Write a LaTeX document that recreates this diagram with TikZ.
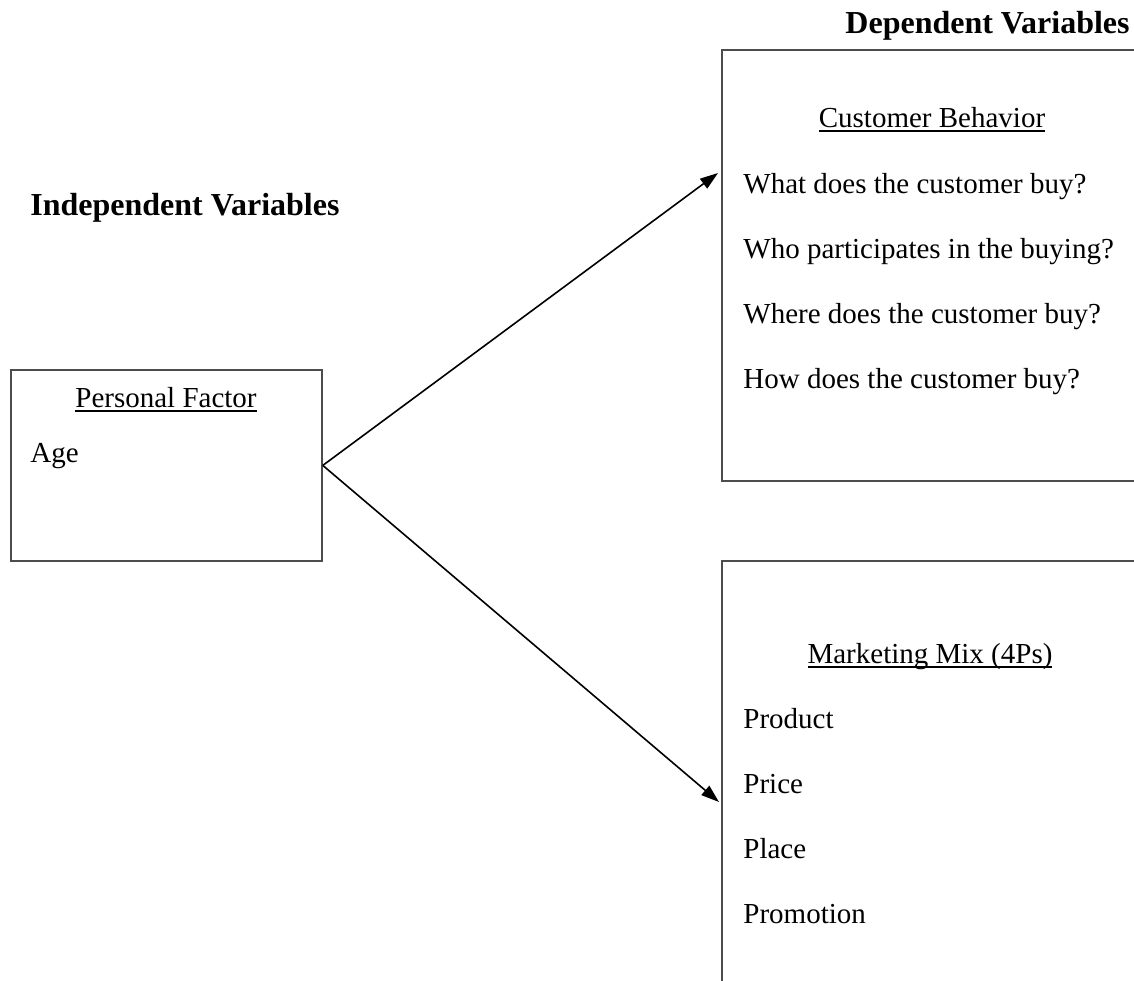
\documentclass[tikz,border=0pt]{standalone}
\usepackage{fontspec}
\setmainfont{Liberation Serif}
\newcommand{\ulword}[1]{\setbox0\hbox{#1}\rlap{\rule[-2.4pt]{\wd0}{0.9pt}}\box0}
\usetikzlibrary{arrows.meta, positioning}

\begin{document}
\begin{tikzpicture}[x=0.5pt, y=-0.5pt,
  box/.style={draw=black!70, line width=0.9pt, anchor=north west, inner sep=0pt},
  txt/.style={anchor=base west, inner sep=0pt, font=\fontsize{14.5}{17}\selectfont},
  ttl/.style={txt, anchor=base},
  hd/.style={anchor=base west, inner sep=0pt, font=\fontsize{16}{19}\selectfont\bfseries},
  arr/.style={-{Triangle[length=9pt, width=6pt]}, line width=0.8pt}]
  \clip (0,0) rectangle (1134,980);

  \node[hd] (indep) at (30,215) {Independent Variables};
  \node[hd, anchor=base east] (dep) at (1130,33) {Dependent Variables};

  % independent side
  \node[box, minimum width=155.5pt, minimum height=95.5pt] (pf) at (10,369) {};
  \node[ttl] (pft) at (166,407) {\ulword{Personal Factor}};
  \node[txt] (age) at (30,462) {Age};

  % dependent side, upper box
  \node[box, minimum width=210pt, minimum height=215.5pt] (cb) at (721,49) {};
  \node[ttl] (cbt) at (932,127) {\ulword{Customer Behavior}};
  \node[txt] (what) at (743,193) {What does the customer buy?};
  \node[txt] (who) at (743,258) {Who participates in the buying?};
  \node[txt] (where) at (743,323) {Where does the customer buy?};
  \node[txt] (how) at (743,388) {How does the customer buy?};

  % dependent side, lower box
  \node[box, minimum width=210pt, minimum height=225pt] (mm) at (721,560) {};
  \node[ttl] (mmt) at (930,663) {\ulword{Marketing Mix (4Ps)}};
  \node[txt] (product) at (743,728) {Product};
  \node[txt] (price) at (743,793) {Price};
  \node[txt] (place) at (743,858) {Place};
  \node[txt] (promo) at (743,923) {Promotion};

  \coordinate (cbin) at (718,173);
  \coordinate (mmin) at (719,802);
  \draw[arr] (pf.east) -- (cbin);
  \draw[arr] (pf.east) -- (mmin);
\end{tikzpicture}
\end{document}
